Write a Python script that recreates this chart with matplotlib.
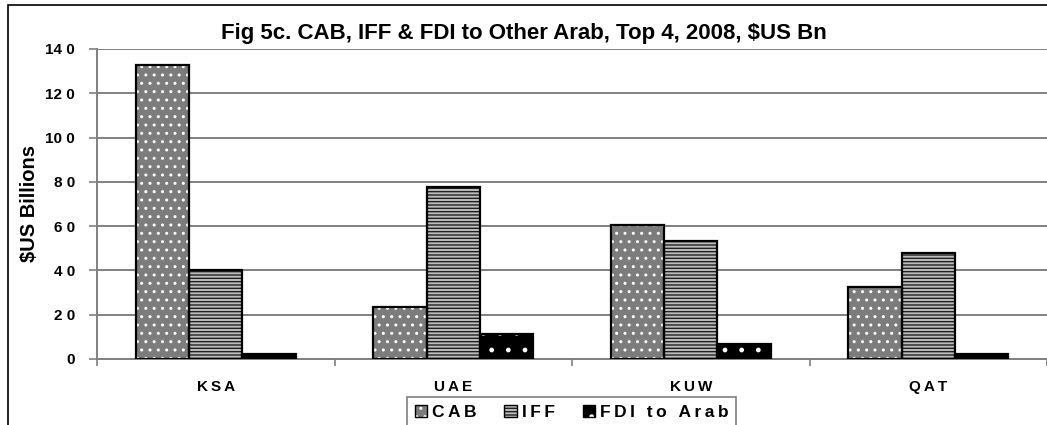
import numpy as np
import matplotlib
matplotlib.use('Agg')
import matplotlib.pyplot as plt
from matplotlib.patches import Rectangle, Patch

plt.rcParams['font.family'] = ['Liberation Sans', 'DejaVu Sans']
plt.rcParams['font.weight'] = 'bold'
plt.rcParams['hatch.linewidth'] = 1.0

# dados
paises = ['KSA', 'UAE', 'KUW', 'QAT']
cab = [133.0, 23.6, 60.5, 32.4]
iff = [40.0, 77.8, 53.4, 47.7]
fdi = [2.2, 11.2, 6.8, 2.2]
series = ['CAB', 'IFF', 'FDI to Arab']
yticks = [0, 20, 40, 60, 80, 100, 120, 140]


def espaco(txt):
    # Excel espaca as letras
    return '\u2009'.join(txt)


fig = plt.figure(figsize=(10.47, 4.25), dpi=100)
ax = fig.add_axes([97 / 1047, 66 / 425, 950 / 1047, 310 / 425])

x = np.arange(len(paises))
w = 0.224
estilos = [
    dict(fc='#7c7c7c', hc='white', hatch='..'),
    dict(fc='#bdbdbd', hc='#202020', hatch='-----'),
    dict(fc='black', hc='white', hatch='.'),
]
for i, (vals, st) in enumerate(zip([cab, iff, fdi], estilos)):
    pos = x + (i - 1) * w
    ax.bar(pos, vals, w, color=st['fc'], edgecolor=st['hc'], hatch=st['hatch'],
           linewidth=0, zorder=3)
    ax.bar(pos, vals, w, fill=False, edgecolor='black', linewidth=1.6, zorder=4)

ax.set_xlim(-0.5, 3.45)
ax.set_ylim(0, 140)
ax.set_yticks(yticks)
rotulos_y = []
for v in yticks:
    s = str(v)
    rotulos_y.append(s if len(s) == 1 else s[:-1] + ' ' + s[-1])
ax.set_yticklabels(rotulos_y, fontsize=11, fontweight='bold')
ax.yaxis.grid(True, color='#808080', linewidth=1.4, zorder=0)
ax.set_xticks(x)
ax.set_xticklabels([espaco(p) for p in paises], fontsize=11, fontweight='bold')
ax.set_xticks(np.arange(-0.5, 4, 1), minor=True)
ax.tick_params(axis='x', which='major', length=0, pad=15)
ax.tick_params(axis='x', which='minor', length=5, color='#808080', width=1.2)
ax.tick_params(axis='y', length=6, color='#808080', width=1.2, pad=10)
for s in ['top', 'right']:
    ax.spines[s].set_visible(False)
ax.spines['left'].set_color('#808080')
ax.spines['left'].set_linewidth(1.4)
ax.spines['bottom'].set_color('#808080')
ax.spines['bottom'].set_linewidth(1.4)

ax.set_ylabel('$US Billions', fontsize=14.5, fontweight='bold', labelpad=4)

fig.text(0.5, 1 - 33 / 425, 'Fig 5c. CAB, IFF & FDI to Other Arab, Top 4, 2008, $US Bn',
         ha='center', va='center', fontsize=16, fontweight='bold')

handles = [(Patch(facecolor=st['fc'], edgecolor=st['hc'], hatch=st['hatch'], linewidth=0),
            Patch(fill=False, edgecolor='black', linewidth=1.0))
           for st in estilos]
leg = fig.legend(handles, [espaco(s) for s in series], ncol=3,
                 loc='upper left', bbox_to_anchor=(407 / 1047, 1 - 397 / 425),
                 bbox_transform=fig.transFigure, fontsize=12.5, borderaxespad=0,
                 handlelength=0.7, handleheight=0.7, handletextpad=0.3,
                 columnspacing=1.6, borderpad=0.45, fancybox=False,
                 framealpha=1, edgecolor='#808080')
leg.get_frame().set_linewidth(1.2)

# moldura da figura
fig.patches.append(Rectangle((8 / 1047, -0.1), 1.1, 1 - 5 / 425 + 0.1,
                             transform=fig.transFigure, fill=False,
                             edgecolor='black', linewidth=1.2))

fig.savefig('out.png', dpi=100)
